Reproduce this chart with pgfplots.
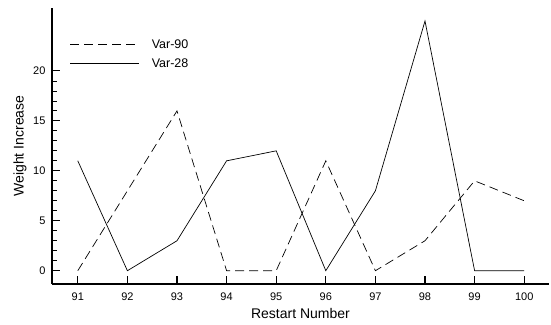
\documentclass[border=0pt]{standalone}
\usepackage{pgfplots}
\pgfplotsset{compat=1.18}
\usepackage{fontspec}
\setmainfont{Liberation Sans}
\begin{document}
\begin{tikzpicture}
\begin{axis}[
  name=ax,
  scale only axis,
  width=497bp, height=276bp,
  xmin=90.48, xmax=100.5,
  ymin=-1.33, ymax=26.3,
  axis x line*=bottom, axis y line*=left,
  axis line style={-, line width=1.3pt},
  xtick={91,92,...,100},
  ytick={0,5,10,15,20},
  minor y tick num=4,
  tick align=inside,
  major tick length=8bp, minor tick length=5bp,
  every tick/.style={black, line width=1.1pt},
  minor tick style={line width=0.8pt},
  tick label style={font=\fontsize{11bp}{13bp}\selectfont},
  xticklabel style={anchor=base, yshift=-16bp},
  yticklabel style={anchor=east, xshift=-3bp},
  /pgf/number format/assume math mode=true,
  xlabel={Restart Number}, ylabel={Weight Increase},
  every axis x label/.style={at={(axis description cs:0.5,-0.1268)}, anchor=base, font=\fontsize{14bp}{16bp}\selectfont},
  every axis y label/.style={at={(axis description cs:-0.0644,0.5)}, rotate=90, anchor=center, font=\fontsize{14bp}{16bp}\selectfont},
  legend style={at={(axis description cs:0.036,1)}, anchor=west, yshift=-46bp,
    draw=none, fill=none, inner sep=0pt, nodes={inner sep=0pt},
    font=\fontsize{12.5bp}{14bp}\selectfont, row sep=9bp, column sep=12bp},
  legend cell align=left,
  legend image code/.code={\draw[#1] (0bp,0bp) -- (69bp,0bp);},
]
\addplot[black, line width=0.7pt, dash pattern=on 9bp off 5bp] coordinates {
(91,0)(92,8)(93,16)(94,0)(95,0)(96,11)(97,0)(98,3)(99,9)(100,7)};
\addlegendentry{Var-90}
\addplot[black, line width=0.7pt] coordinates {
(91,11)(92,0)(93,3)(94,11)(95,12)(96,0)(97,8)(98,25)(99,0)(100,0)};
\addlegendentry{Var-28}
\end{axis}
\pgfresetboundingbox
\path ([shift={(-52bp,-41bp)}]ax.south west) rectangle ([shift={(2bp,8bp)}]ax.north east);
\end{tikzpicture}
\end{document}
